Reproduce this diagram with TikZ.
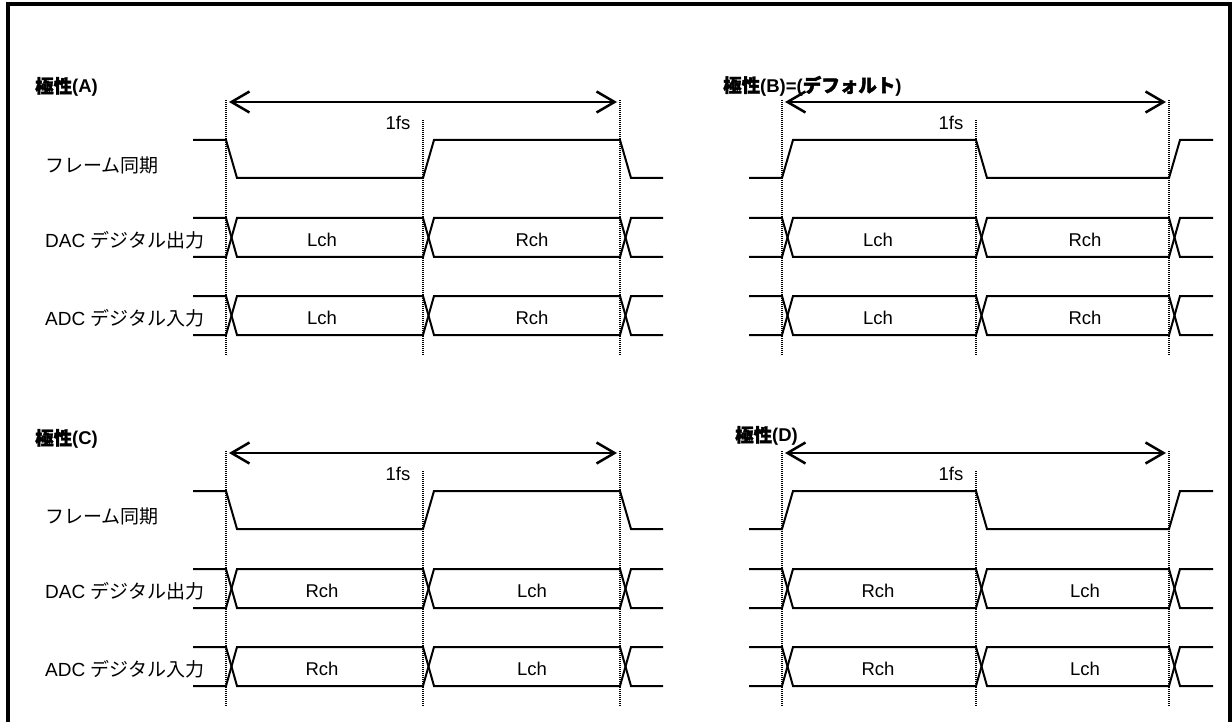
\documentclass[tikz,border=0pt]{standalone}
\usepackage{fontspec}
\setmainfont{Liberation Sans}
\newfontfamily\jp{Noto Sans CJK JP}
\newfontfamily\jpb{Noto Sans CJK JP}[FakeBold=2]
\usetikzlibrary{arrows.meta}
\tikzset{
  sig/.style={line width=2pt, line join=miter},
  guide/.style={line width=1.2pt, dash pattern=on 1.2pt off 0.8pt},
  dimarrow/.style={line width=2.5pt,
    {Straight Barb[length=18pt,width=21pt,line width=2.5pt]}-{Straight Barb[length=18pt,width=21pt,line width=2.5pt]}},
  lab/.style={anchor=west, inner sep=0pt, font=\fontsize{19}{21}\selectfont},
  chl/.style={inner sep=0pt, font=\fontsize{18.5}{20}\selectfont},
  ttl/.style={anchor=west, inner sep=0pt, font=\fontsize{18.5}{20}\selectfont\bfseries},
  frm/.style={line width=4pt},
}
% #1 prefix, #2 xs, #3 e1, #4 e2, #5 e3, #6 xe, #7 ch1, #8 ch2
\newcommand\tdlanes[8]{%
  \foreach \yt/\yb/\yc/\ln in {218/257/240/dac,296/335/318/adc} {
    \draw[sig] (#2,\yt) -- (#3,\yt) -- ({#3+11},\yb) -- (#4,\yb) -- ({#4+11},\yt) -- (#5,\yt) -- ({#5+11},\yb) -- (#6,\yb);
    \draw[sig] (#2,\yb) -- (#3,\yb) -- ({#3+11},\yt) -- (#4,\yt) -- ({#4+11},\yb) -- (#5,\yb) -- ({#5+11},\yt) -- (#6,\yt);
    \node[chl] (#1\ln a) at ({#3+96},\yc) {#7};
    \node[chl] (#1\ln b) at ({#4+109},\yc) {#8};
  }
  \coordinate (#1g1t) at (#3,100);
  \coordinate (#1g1b) at (#3,355);
  \coordinate (#1g2t) at (#4,120);
  \coordinate (#1g2b) at (#4,355);
  \coordinate (#1g3t) at (#5,100);
  \coordinate (#1g3b) at (#5,355);
  \draw[guide] (#1g1t) -- (#1g1b);
  \draw[guide] (#1g2t) -- (#1g2b);
  \draw[guide] (#1g3t) -- (#1g3b);
  \coordinate (#1al) at ({#3+3},102);
  \coordinate (#1ar) at ({#5-3},102);
  \draw[dimarrow] (#1al) -- (#1ar);
  \node[chl] (#1fs) at ({#4-25},123) {1fs};
}
\newcommand\framehi[5]{\draw[sig] (#1,140) -- (#2,140) -- ({#2+11},178) -- (#3,178) -- ({#3+11},140) -- (#4,140) -- ({#4+11},178) -- (#5,178);}
\newcommand\framelo[5]{\draw[sig] (#1,178) -- (#2,178) -- ({#2+11},140) -- (#3,140) -- ({#3+11},178) -- (#4,178) -- ({#4+11},140) -- (#5,140);}
\newcommand\leftlabels[1]{%
  \node[lab] (#1l1) at (45,165) {\jp フレーム同期};
  \node[lab] (#1l2) at (45,240) {DAC {\jp デジタル出力}};
  \node[lab] (#1l3) at (45,318) {ADC {\jp デジタル入力}};
}
\begin{document}
\begin{tikzpicture}[x=1pt,y=-1pt]
\useasboundingbox (0,0) rectangle (1232,722);
\fill[white] (0,0) rectangle (1232,722);
\draw[frm] (7.5,722) -- (7.5,4) -- (1229.5,4) -- (1229.5,722);

% Panel A
\begin{scope}
  \node[ttl] (tA) at (35,87) {{\jpb 極性}(A)};
  \leftlabels{A}
  \tdlanes{A}{193}{226}{423}{620}{663}{Lch}{Rch}
  \framehi{193}{226}{423}{620}{663}
\end{scope}
% Panel B
\begin{scope}
  \node[ttl] (tB) at (723,86) {{\jpb 極性}(B)=({\jpb デフォルト})};
  \tdlanes{B}{749}{782}{976}{1169}{1213}{Lch}{Rch}
  \framelo{749}{782}{976}{1169}{1213}
\end{scope}
% Panel C
\begin{scope}[shift={(0,351)}]
  \node[ttl] (tC) at (35,88) {{\jpb 極性}(C)};
  \leftlabels{C}
  \tdlanes{C}{193}{226}{423}{620}{663}{Rch}{Lch}
  \framehi{193}{226}{423}{620}{663}
\end{scope}
% Panel D
\begin{scope}[shift={(0,351)}]
  \node[ttl] (tD) at (735,85) {{\jpb 極性}(D)};
  \tdlanes{D}{749}{782}{976}{1169}{1213}{Rch}{Lch}
  \framelo{749}{782}{976}{1169}{1213}
\end{scope}
\end{tikzpicture}
\end{document}
